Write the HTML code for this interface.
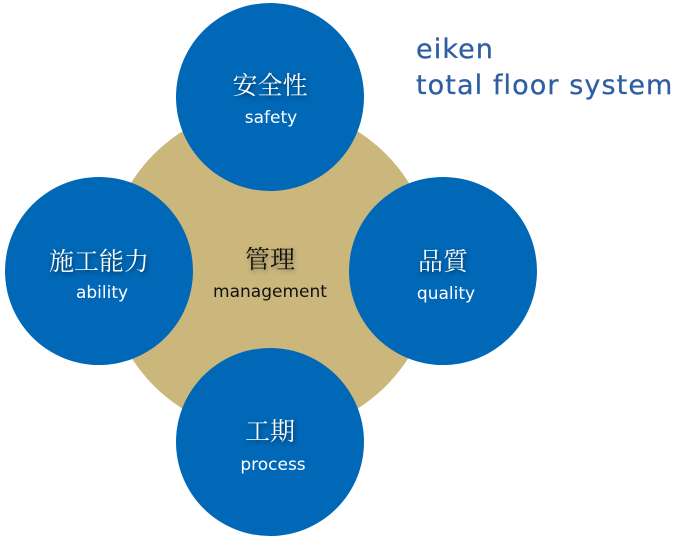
<!DOCTYPE html>
<html><head><meta charset="utf-8"><style>
body{margin:0;width:684px;height:542px;background:#fff;position:relative;overflow:hidden}
.c{position:absolute;border-radius:50%}
.b{background:#0068b7;width:188px;height:188px}
.t{position:absolute;width:200px;text-align:center;font-family:"Noto Serif CJK SC","Liberation Serif",serif;font-size:25px;color:#fff;text-shadow:1px 2px 4px rgba(0,0,0,.5)}
.e{position:absolute;width:200px;text-align:center;font-family:"DejaVu Sans","Liberation Sans",sans-serif;font-size:17px;color:#fff}
.title{position:absolute;left:416px;top:32px;font-family:"DejaVu Sans","Liberation Sans",sans-serif;font-size:27px;letter-spacing:1.1px;line-height:36px;color:#2f5fa3;-webkit-text-stroke:0.3px #2f5fa3}
</style></head><body>
<div class="c" style="left:106px;top:106px;width:328px;height:328px;background:#cbb77c"></div>
<div class="c b" style="left:176px;top:3px"></div>
<div class="c b" style="left:5px;top:177px"></div>
<div class="c b" style="left:349px;top:177px"></div>
<div class="c b" style="left:176px;top:348px"></div>
<div class="t" style="left:170px;top:66px">安全性</div>
<div class="e" style="left:171px;top:108px">safety</div>
<div class="t" style="left:-1px;top:242px">施工能力</div>
<div class="e" style="left:2px;top:283px">ability</div>
<div class="t" style="left:343px;top:242px">品質</div>
<div class="e" style="left:346px;top:284px">quality</div>
<div class="t" style="left:170px;top:412px">工期</div>
<div class="e" style="left:173px;top:455px">process</div>
<div class="t" style="left:170px;top:240px;color:#111;text-shadow:1px 2px 4px rgba(0,0,0,.35)">管理</div>
<div class="e" style="left:170px;top:282px;color:#111">management</div>
<div class="title">eiken<br>total floor system</div>
</body></html>
